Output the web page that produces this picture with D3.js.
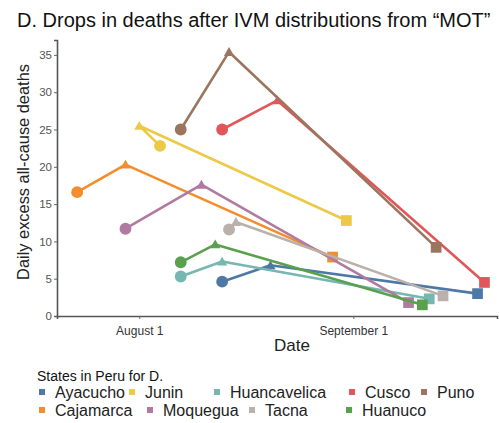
<!DOCTYPE html>
<html>
<head>
<meta charset="utf-8">
<script src="https://cdn.jsdelivr.net/npm/d3@7"></script>
<style>
  body { margin: 0; background: #fff; }
  svg { font-family: "Liberation Sans", Arial, sans-serif; }
</style>
</head>
<body>
<div id="chart"></div>
<script>
// data: start (circle) -> peak (triangle) -> end (square)
const states = ["Ayacucho", "Junin", "Huancavelica", "Cusco", "Puno", "Cajamarca", "Moquegua", "Tacna", "Huanuco"]
const colors = ["#4E79A7", "#EDC948", "#76B7B2", "#E15759", "#9C755F", "#F28E2B", "#B07AA1", "#BAB0AC", "#59A14F"]
const startDates = ["2021-08-13", "2021-08-04", "2021-08-07", "2021-08-13", "2021-08-07", "2021-07-23", "2021-07-30", "2021-08-14", "2021-08-07"]
const startValues = [4.6, 22.8, 5.3, 25.0, 25.0, 16.6, 11.7, 11.6, 7.2]
const peakDates = ["2021-08-20", "2021-08-01", "2021-08-13", "2021-08-21", "2021-08-14", "2021-07-30", "2021-08-10", "2021-08-15", "2021-08-12"]
const peakValues = [6.8, 25.5, 7.3, 28.9, 35.4, 20.3, 17.6, 12.6, 9.6]
const endDates = ["2021-09-19", "2021-08-31", "2021-09-12", "2021-09-20", "2021-09-13", "2021-08-29", "2021-09-09", "2021-09-14", "2021-09-11"]
const endValues = [3.0, 12.8, 2.3, 4.5, 9.2, 7.9, 1.8, 2.7, 1.5]
const yTicks = [0, 5, 10, 15, 20, 25, 30, 35]
const xTickDates = ["2021-08-01", "2021-09-01"]
const xTickLabels = ["August 1", "September 1"]
// legend layout: two rows
const legendRows = [
    ["Ayacucho", "Junin", "Huancavelica", "Cusco", "Puno"],
    ["Cajamarca", "Moquegua", "Tacna", "Huanuco"]
]
const legendTextX = [[55, 145, 230, 365, 437], [55, 163, 265, 362]]

const W = 499, H = 423
const PLOT = { LEFT: 57, RIGHT: 497, TOP: 40, BOTTOM: 316 }
const parse = d3.utcParse("%Y-%m-%d")

const svg = d3.select("#chart").append("svg")
    .attr("width", W)
    .attr("height", H)

// scales
const xBase = d3.scaleUtc()
    .domain(xTickDates.map(parse))
    .range([139.3, 353.3])
const x = d3.scaleUtc()
    .domain([xBase.invert(PLOT.LEFT), xBase.invert(PLOT.RIGHT)])
    .range([PLOT.LEFT, PLOT.RIGHT])
const y = d3.scaleLinear()
    .domain([0, 37])
    .range([PLOT.BOTTOM, PLOT.TOP])

// title
svg.append("text")
    .attr("x", 17)
    .attr("y", 27)
    .attr("font-size", 20)
    .attr("fill", "#111")
    .text("D. Drops in deaths after IVM distributions from “MOT”")

// axes
const yAxis = svg.append("g")
    .attr("transform", `translate(${PLOT.LEFT},0)`)
    .call(d3.axisLeft(y).tickValues(yTicks).tickSize(3).tickPadding(2))
yAxis.select(".domain").attr("stroke", "#555").attr("stroke-width", 1.6)
yAxis.selectAll(".tick line").attr("stroke", "#666")
yAxis.selectAll(".tick text").attr("font-size", 11.5).attr("fill", "#555")

const xAxis = svg.append("g")
    .attr("transform", `translate(0,${PLOT.BOTTOM})`)
    .call(d3.axisBottom(x)
        .tickValues(xTickDates.map(parse))
        .tickFormat((d, i) => xTickLabels[i])
        .tickSize(3).tickPadding(7))
xAxis.select(".domain").attr("stroke", "#555").attr("stroke-width", 1.6)
xAxis.selectAll(".tick line").attr("stroke", "#666")
xAxis.selectAll(".tick text").attr("font-size", 12).attr("fill", "#333")

// axis titles
svg.append("text")
    .attr("transform", `translate(29,172) rotate(-90)`)
    .attr("text-anchor", "middle")
    .attr("font-size", 16.4)
    .attr("fill", "#222")
    .text("Daily excess all-cause deaths")

svg.append("text")
    .attr("x", 292)
    .attr("y", 351)
    .attr("text-anchor", "middle")
    .attr("font-size", 17)
    .attr("fill", "#222")
    .text("Date")

// build series
const series = states.map((s, i) => ({
    name: s,
    color: colors[i],
    pts: [
        { date: parse(startDates[i]), value: startValues[i], shape: "circle" },
        { date: parse(peakDates[i]), value: peakValues[i], shape: "triangle" },
        { date: parse(endDates[i]), value: endValues[i], shape: "square" }
    ]
}))

const line = d3.line()
    .x(d => x(d.date))
    .y(d => y(d.value))

const plot = svg.append("g")

const groups = plot.selectAll("g.state")
    .data(series)
    .join("g")
    .attr("class", "state")

groups.append("path")
    .attr("d", d => line(d.pts))
    .attr("fill", "none")
    .attr("stroke", d => d.color)
    .attr("stroke-width", 2.6)
    .attr("stroke-linejoin", "round")

const symbolOf = {
    circle: d3.symbol(d3.symbolCircle, 110),
    triangle: d3.symbol(d3.symbolTriangle, 45),
    square: d3.symbol(d3.symbolSquare, 115)
}

groups.each(function (s) {
    d3.select(this).selectAll("path.pt")
        .data(s.pts)
        .join("path")
        .attr("class", "pt")
        .attr("d", d => symbolOf[d.shape]())
        .attr("transform", d => `translate(${x(d.date)},${y(d.value) + (d.shape == "triangle" ? 1 : 0)})`)
        .attr("fill", s.color)
})

// legend
svg.append("text")
    .attr("x", 37)
    .attr("y", 381)
    .attr("font-size", 14)
    .attr("fill", "#111")
    .text("States in Peru for D.")

legendRows.forEach((row, r) => {
    row.forEach((name, j) => {
        const i = states.indexOf(name)
        const tx = legendTextX[r][j]
        const ly = 398 + r * 18
        svg.append("rect")
            .attr("x", tx - 16)
            .attr("y", ly - 9)
            .attr("width", 6)
            .attr("height", 6)
            .attr("fill", colors[i])
        svg.append("text")
            .attr("x", tx)
            .attr("y", ly)
            .attr("font-size", 16)
            .attr("fill", "#222")
            .text(name)
    })
})
</script>
</body>
</html>
